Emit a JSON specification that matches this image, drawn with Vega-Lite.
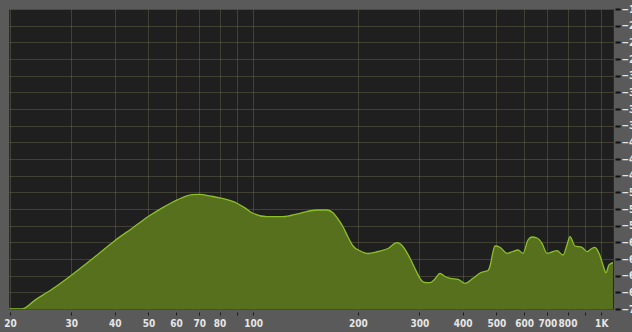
{
  "$schema": "https://vega.github.io/schema/vega-lite/v6.json",
  "width": 604,
  "height": 300,
  "autosize": {"type": "none"},
  "padding": {"left": 9, "top": 9, "right": 19, "bottom": 23},
  "background": "#5a5a5a",
  "config": {
    "view": {"fill": "#1f1f1f", "stroke": "#2a2a2a", "strokeWidth": 1},
    "axis": {
      "labelFont": "DejaVu Sans Condensed",
      "labelFontWeight": "bold",
      "labelColor": "#e6e6e6",
      "domain": false,
      "gridColor": "#c8c88a",
      "gridOpacity": 0.2,
      "gridWidth": 1,
      "zindex": 1
    }
  },
  "data": {
    "values": [
      {"f": 19.9, "db": -72},
      {"f": 21.65, "db": -72},
      {"f": 23.6, "db": -70.4},
      {"f": 26.4, "db": -68.45},
      {"f": 29.9, "db": -66.0},
      {"f": 34.6, "db": -62.9},
      {"f": 40.0, "db": -59.7},
      {"f": 44.8, "db": -57.5},
      {"f": 49.8, "db": -55.4},
      {"f": 55.1, "db": -53.7},
      {"f": 60.3, "db": -52.4},
      {"f": 66.7, "db": -51.4},
      {"f": 70.3, "db": -51.35},
      {"f": 75.1, "db": -51.65},
      {"f": 80.2, "db": -52.0},
      {"f": 89.8, "db": -52.97},
      {"f": 94.7, "db": -53.8},
      {"f": 99.8, "db": -54.77},
      {"f": 109.5, "db": -55.39},
      {"f": 121.8, "db": -55.39},
      {"f": 136.3, "db": -54.77},
      {"f": 152.5, "db": -54.18},
      {"f": 162.9, "db": -54.18},
      {"f": 169.5, "db": -54.67},
      {"f": 175.2, "db": -55.8},
      {"f": 181.1, "db": -57.19},
      {"f": 187.2, "db": -59.04},
      {"f": 193.5, "db": -60.66},
      {"f": 202.6, "db": -61.51},
      {"f": 213.8, "db": -62.01},
      {"f": 228.4, "db": -61.65},
      {"f": 244.0, "db": -61.11},
      {"f": 259.0, "db": -60.07},
      {"f": 269.5, "db": -60.79},
      {"f": 282.2, "db": -62.87},
      {"f": 291.6, "db": -64.71},
      {"f": 301.4, "db": -66.47},
      {"f": 311.6, "db": -67.23},
      {"f": 322.0, "db": -67.27},
      {"f": 332.9, "db": -66.6},
      {"f": 344.0, "db": -65.57},
      {"f": 355.7, "db": -66.15},
      {"f": 367.6, "db": -66.47},
      {"f": 387.8, "db": -66.65},
      {"f": 406.0, "db": -67.37},
      {"f": 428.0, "db": -66.47},
      {"f": 451.2, "db": -65.43},
      {"f": 472.6, "db": -65.07},
      {"f": 482.2, "db": -63.54},
      {"f": 485.4, "db": -62.59},
      {"f": 495.1, "db": -60.66},
      {"f": 511.8, "db": -60.89},
      {"f": 536.1, "db": -61.97},
      {"f": 557.8, "db": -61.65},
      {"f": 576.5, "db": -61.38},
      {"f": 595.9, "db": -61.97},
      {"f": 616.0, "db": -59.58},
      {"f": 632.5, "db": -59.04},
      {"f": 653.8, "db": -59.22},
      {"f": 675.8, "db": -60.17},
      {"f": 698.5, "db": -61.97},
      {"f": 722.1, "db": -61.74},
      {"f": 746.3, "db": -61.51},
      {"f": 776.5, "db": -62.28},
      {"f": 797.3, "db": -60.48},
      {"f": 813.2, "db": -58.99},
      {"f": 840.5, "db": -60.66},
      {"f": 880.4, "db": -60.89},
      {"f": 910.0, "db": -61.68},
      {"f": 934.4, "db": -61.2},
      {"f": 959.5, "db": -60.89},
      {"f": 985.5, "db": -61.97},
      {"f": 1011.7, "db": -64.08},
      {"f": 1032.0, "db": -65.47},
      {"f": 1052.6, "db": -64.08},
      {"f": 1080.8, "db": -63.67}
    ]
  },
  "mark": {
    "type": "area",
    "clip": true,
    "interpolate": "monotone",
    "color": "#56701e",
    "fillOpacity": 1,
    "line": {"color": "#8cbf2a", "strokeWidth": 1.3}
  },
  "encoding": {
    "x": {
      "field": "f",
      "type": "quantitative",
      "scale": {"type": "log", "domain": [19.87, 1081], "nice": false},
      "axis": {
        "orient": "bottom",
        "title": null,
        "values": [20, 30, 40, 50, 60, 70, 80, 90, 100, 200, 300, 400, 500, 600, 700, 800, 900, 1000],
        "labelExpr": "datum.value == 1000 ? '1K' : (datum.value == 90 || datum.value == 900 ? '' : datum.label)",
        "labelFontSize": 10,
        "offset": 3,
        "tickSize": 3,
        "tickColor": "#1a1a1a",
        "labelPadding": 3,
        "labelFlush": false,
        "labelOverlap": false
      }
    },
    "y": {
      "field": "db",
      "type": "quantitative",
      "scale": {"domain": [-72, -18], "nice": false, "zero": false},
      "axis": {
        "orient": "right",
        "title": null,
        "values": [-18, -21, -24, -27, -30, -33, -36, -39, -42, -45, -48, -51, -54, -57, -60, -63, -66, -69, -72],
        "labelFontSize": 10,
        "labelAlign": "left",
        "offset": 2,
        "tickSize": 5,
        "tickColor": "#111111",
        "tickWidth": 2,
        "labelPadding": 1,
        "labelFlush": false,
        "labelOverlap": false
      }
    },
    "y2": {"datum": -72}
  }
}
